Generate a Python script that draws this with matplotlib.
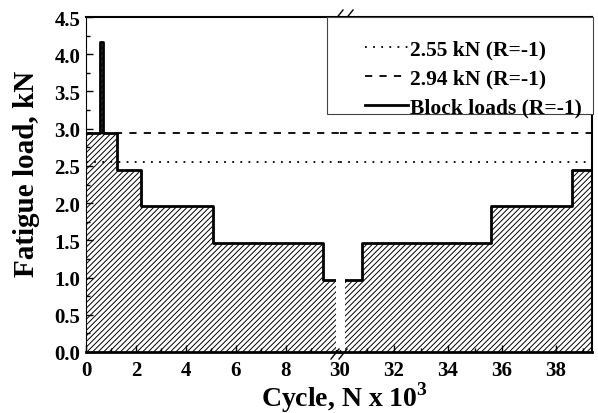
import matplotlib.pyplot as plt
import matplotlib.lines as mlines
from matplotlib.ticker import MultipleLocator

plt.rcParams['font.family'] = ['Liberation Serif', 'DejaVu Serif']
plt.rcParams['font.weight'] = 'bold'
plt.rcParams['hatch.linewidth'] = 0.7
plt.rcParams['mathtext.fontset'] = 'custom'
plt.rcParams['mathtext.rm'] = 'Liberation Serif:bold'
plt.rcParams['mathtext.bf'] = 'Liberation Serif:bold'

# block load history (cycles x 10^3, load kN), left and right of the axis break
left_edges = [0, 0.55, 0.7, 1.25, 2.2, 5.1, 9.5, 10.0]
left_loads = [2.94, 4.17, 2.94, 2.45, 1.96, 1.47, 0.97]
right_edges = [30.2, 30.8, 35.6, 38.6, 39.4]
right_loads = [0.97, 1.47, 1.96, 2.45]

load_low = 2.55
load_high = 2.94
labels = ['2.55 kN (R=-1)', '2.94 kN (R=-1)', 'Block loads (R=-1)']

W, H = 598, 414
fig = plt.figure(figsize=(W / 100, H / 100), dpi=100)
x0, xb, x1 = 86 / W, 340 / W, 592 / W
y0, y1 = 1 - 353 / H, 1 - 18 / H
ax1 = fig.add_axes([x0, y0, xb - x0, y1 - y0])
ax2 = fig.add_axes([xb, y0, x1 - xb, y1 - y0])


def draw_blocks(ax, edges, loads):
    ys = loads + [loads[-1]]
    ax.fill_between(edges, ys, step='post', facecolor='white', edgecolor='black',
                    hatch='//////', linewidth=0, zorder=1)
    ax.step(edges, ys, where='post', color='black', lw=2, zorder=4)


draw_blocks(ax1, left_edges, left_loads)
draw_blocks(ax2, right_edges, right_loads)

for ax in (ax1, ax2):
    ax.axhline(load_low, color='black', ls=(0, (1, 3.5)), lw=1.3, zorder=3)
    ax.axhline(load_high, color='black', ls=(0, (4, 4)), lw=1.3, zorder=3)
    ax.set_ylim(0, 4.5)
    ax.xaxis.set_minor_locator(MultipleLocator(1))
    ax.tick_params(which='both', direction='in', labelsize=15, width=1)
    ax.tick_params(axis='x', pad=6)
    ax.tick_params(axis='y', pad=4)
    ax.tick_params(which='major', length=5)
    ax.tick_params(which='minor', length=3)
    for s in ax.spines.values():
        s.set_linewidth(1.5)
    ax.spines['bottom'].set_linewidth(2)

ax1.set_xlim(0, 10.16)
ax1.set_xticks([0, 2, 4, 6, 8])
ax1.set_yticks([0, 0.5, 1.0, 1.5, 2.0, 2.5, 3.0, 3.5, 4.0, 4.5])
ax1.set_yticklabels([f'{v:.1f}' for v in ax1.get_yticks()])
ax1.yaxis.set_minor_locator(MultipleLocator(0.25))
ax1.spines['right'].set_visible(False)
ax1.spines['left'].set_linewidth(0.8)
ax1.tick_params(axis='y', which='both', right=False)

ax2.set_xlim(30, 39.35)
ax2.set_xticks([30, 32, 34, 36, 38])
ax2.spines['left'].set_visible(False)
ax2.tick_params(axis='y', which='both', left=False, right=False, labelleft=False)

fig.text(27 / W, 1 - 174 / H, 'Fatigue load, kN', rotation=90, ha='center', va='center',
         fontsize=21, fontweight='bold')
fig.text(345 / W, 1 - 407 / H, r'Cycle, N x 10$^\mathbf{3}$', ha='center', va='baseline',
         fontsize=20, fontweight='bold')

# white gap through the hatched area and break marks
gap_top = y0 + (y1 - y0) * 1.1 / 4.5
gap = plt.Rectangle((336 / W, y0 + 0.004), 9 / W, gap_top - y0,
                    transform=fig.transFigure, facecolor='white', edgecolor='none', zorder=5)
fig.add_artist(gap)
for cx, cy in [(335, 355), (343, 355), (339, 16), (349, 16)]:
    fig.add_artist(mlines.Line2D([(cx - 4) / W, (cx + 4) / W],
                                 [1 - (cy + 5) / H, 1 - (cy - 5) / H],
                                 color='black', lw=1, transform=fig.transFigure,
                                 zorder=6))

# legend: frameless entries plus a hand-sized box
frame = plt.Rectangle((327 / W, 1 - 115 / H), 266 / W, 97 / H, transform=fig.transFigure,
                      facecolor='white', edgecolor='#444444', lw=0.8, zorder=8)
fig.add_artist(frame)
handles = [mlines.Line2D([], [], color='black', ls=(0, (1, 3.5)), lw=1.3),
           mlines.Line2D([], [], color='black', ls=(0, (4, 4)), lw=1.3),
           mlines.Line2D([], [], color='black', lw=2)]
leg = fig.legend(handles, labels, loc='upper left', bbox_to_anchor=(365 / W, 1 - 40 / H),
                 fontsize=15.5, frameon=False, handlelength=2.0, handletextpad=0.1,
                 borderpad=0, borderaxespad=0, labelspacing=0.42)
leg.set_zorder(10)

fig.savefig('out.png', dpi=100)
